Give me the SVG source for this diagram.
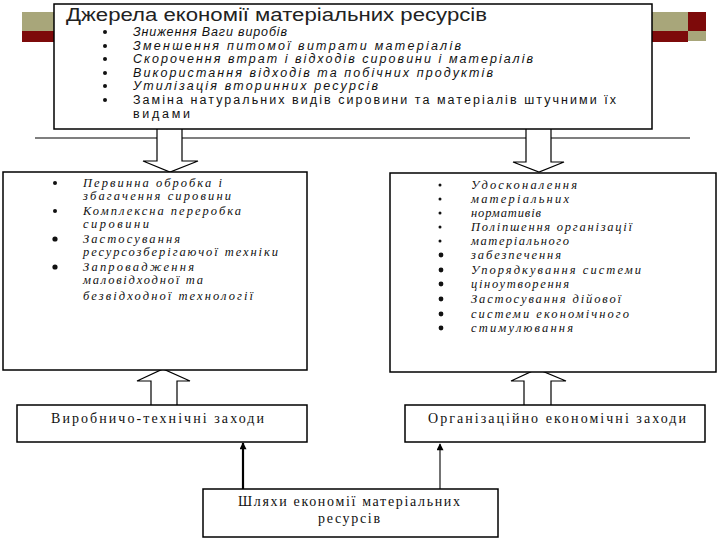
<svg xmlns="http://www.w3.org/2000/svg" width="720" height="540" viewBox="0 0 720 540">
<style>
.box{fill:#fff;stroke:#000;stroke-width:1.5}
.blk{fill:#fff;stroke:#000;stroke-width:1.2}
.title{font-family:"Liberation Sans",Arial,sans-serif;font-size:17.5px;fill:#222}
.it{font-family:"Liberation Sans",Arial,sans-serif;font-size:12.5px;font-style:italic;fill:#111}
.pl{font-family:"Liberation Sans",Arial,sans-serif;font-size:12.5px;fill:#111}
.sit{font-family:"Liberation Serif","Times New Roman",serif;font-size:12.5px;font-style:italic;fill:#111}
.sr{font-family:"Liberation Serif","Times New Roman",serif;font-size:14px;fill:#111}
.olive{fill:#a8a67a}
.red{fill:#7d0a0a}
</style>
<defs>
<marker id="ah" viewBox="0 0 10 10" refX="9" refY="5" markerWidth="9" markerHeight="7" markerUnits="userSpaceOnUse" orient="auto">
<path d="M0,0 L10,5 L0,10 z" fill="#000"/>
</marker>
</defs>
<g id="decor">
<rect class="olive" x="22" y="12" width="32" height="19"/>
<rect class="red" x="22" y="31" width="32" height="11"/>
<rect class="olive" x="652" y="12" width="36" height="19"/>
<rect class="red" x="688" y="12" width="18" height="19"/>
<rect class="red" x="652" y="31" width="36" height="11"/>
<rect class="olive" x="688" y="31" width="18" height="10"/>
<line x1="35" y1="138" x2="690" y2="138" stroke="#000" stroke-width="1.2"/>
</g>
<g id="connectors">
<path class="blk" d="M157,129 V161 H143 L170,172 L198,161 H182 V129"/>
<path class="blk" d="M526,129 V162 H513 L539,172 L564,162 H551 V129"/>
<path class="blk" d="M151,405 V381 H137 L163,369 L190,381 H177 V405"/>
<path class="blk" d="M524,406 V381 H511 L537,369 L566,381 H551 V406"/>
<line x1="243" y1="489" x2="243" y2="443" stroke="#000" stroke-width="2.2" marker-end="url(#ah)"/>
<line x1="440" y1="489" x2="440" y2="444" stroke="#000" stroke-width="1.1" marker-end="url(#ah)"/>
</g>
<g id="sources">
<rect class="box" x="54" y="4" width="598" height="125"/>
<text class="title" x="66" y="21" textLength="421" lengthAdjust="spacingAndGlyphs">Джерела економії матеріальних ресурсів</text>
<g fill="#111">
<circle cx="105" cy="32" r="2"/><circle cx="105" cy="46" r="2"/><circle cx="105" cy="59" r="2"/>
<circle cx="105" cy="73" r="2"/><circle cx="105" cy="86" r="2"/><circle cx="105" cy="100" r="2"/>
</g>
<text class="it" x="133" y="36" textLength="154">Зниження Ваги виробів</text>
<text class="it" x="133" y="50" textLength="328">Зменшення питомої витрати матеріалів</text>
<text class="it" x="133" y="63" textLength="400">Скорочення втрат і відходів сировини і матеріалів</text>
<text class="it" x="133" y="77" textLength="360">Використання відходів та побічних продуктів</text>
<text class="it" x="133" y="90" textLength="245">Утилізація вторинних ресурсів</text>
<text class="pl" x="133" y="104" textLength="483">Заміна натуральних видів сировини та матеріалів штучними їх</text>
<text class="pl" x="133" y="118" textLength="57">видами</text>
</g>
<g id="tech-list">
<rect class="box" x="3" y="172" width="304" height="198"/>
<g fill="#111">
<circle cx="55" cy="183" r="2"/><circle cx="55" cy="211" r="2"/><circle cx="55" cy="239" r="2.6"/><circle cx="55" cy="267" r="2.6"/>
</g>
<text class="sit" x="83" y="187" textLength="139">Первинна обробка і</text>
<text class="sit" x="83" y="200" textLength="148">збагачення сировини</text>
<text class="sit" x="83" y="215" textLength="158">Комплексна переробка</text>
<text class="sit" x="83" y="228" textLength="66">сировини</text>
<text class="sit" x="83" y="243" textLength="97">Застосування</text>
<text class="sit" x="83" y="256" textLength="195">ресурсозберігаючої техніки</text>
<text class="sit" x="83" y="271" textLength="111">Запровадження</text>
<text class="sit" x="83" y="284" textLength="120">маловідходної та</text>
<text class="sit" x="83" y="300" textLength="170">безвідходної технології</text>
</g>
<g id="org-list">
<rect class="box" x="390" y="173" width="326" height="199"/>
<g fill="#111">
<circle cx="440" cy="185" r="1.5"/><circle cx="440" cy="199" r="1.5"/><circle cx="440" cy="213" r="1.5"/>
<circle cx="440" cy="227" r="1.5"/><circle cx="440" cy="241" r="1.5"/>
<circle cx="441" cy="255" r="2.4"/><circle cx="441" cy="270" r="2.4"/><circle cx="441" cy="284" r="2.4"/>
<circle cx="441" cy="299" r="2.4"/><circle cx="441" cy="314" r="2.4"/><circle cx="441" cy="328" r="2.4"/>
</g>
<text class="sit" x="471" y="189" textLength="106">Удосконалення</text>
<text class="sit" x="471" y="203" textLength="98">матеріальних</text>
<text class="sit" x="471" y="217" textLength="70">нормативів</text>
<text class="sit" x="471" y="231" textLength="161">Поліпшення організації</text>
<text class="sit" x="471" y="245" textLength="98">матеріального</text>
<text class="sit" x="471" y="259" textLength="90">забезпечення</text>
<text class="sit" x="471" y="274" textLength="170">Упорядкування системи</text>
<text class="sit" x="471" y="288" textLength="98">ціноутворення</text>
<text class="sit" x="471" y="303" textLength="150">Застосування дійової</text>
<text class="sit" x="471" y="318" textLength="158">системи економічного</text>
<text class="sit" x="471" y="332" textLength="102">стимулювання</text>
</g>
<g id="tech">
<rect class="box" x="17" y="405" width="290" height="37"/>
<text class="sr" x="51" y="423" textLength="213">Виробничо-технічні заходи</text>
</g>
<g id="org">
<rect class="box" x="405" y="405" width="300" height="37"/>
<text class="sr" x="428" y="423" textLength="258">Організаційно економічні заходи</text>
</g>
<g id="ways">
<rect class="box" x="203" y="489" width="295" height="48"/>
<text class="sr" x="238" y="506" textLength="222">Шляхи економії матеріальних</text>
<text class="sr" x="318" y="523" textLength="62">ресурсів</text>
</g>
</svg>
